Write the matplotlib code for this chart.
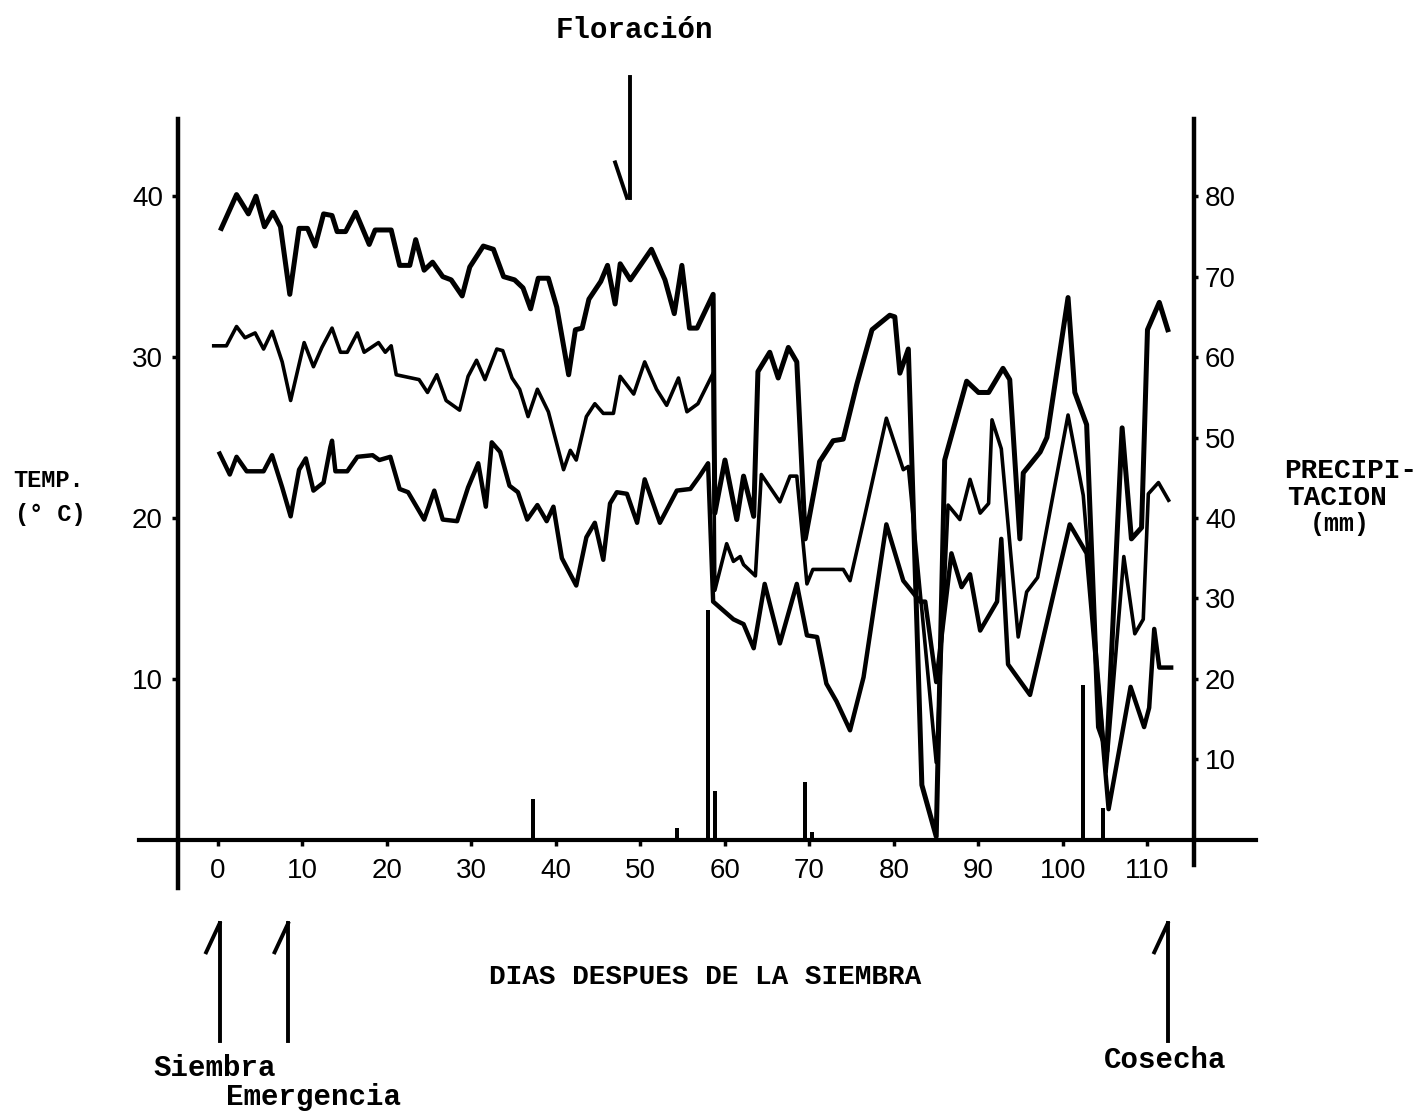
import matplotlib
matplotlib.use('Agg')
import matplotlib.pyplot as plt

# temperatura maxima (dia, grados C)
dias_max = [0.4, 2.2, 3.6, 4.5, 5.5, 6.5, 7.4, 8.5, 9.6, 10.6, 11.5, 12.5, 13.5, 14.1, 15.1,
            16.3, 17.9, 18.6, 20.5, 21.5, 22.7, 23.4, 24.4, 25.4, 26.6, 27.6, 28.9, 29.8,
            31.4, 32.6, 33.8, 35.1, 36.1, 37.0, 37.9, 39.1, 40.1, 41.5, 42.3, 43.1, 43.9,
            45.3, 46.1, 47.0, 47.6, 48.8, 51.3, 52.9, 54.0, 54.9, 55.8, 56.7, 58.6, 58.8,
            60.0, 61.4, 62.2, 63.4, 63.9, 65.3, 66.3, 67.5, 68.5, 69.5, 71.2, 72.8, 74.0,
            75.6, 77.4, 79.5, 80.1, 80.7, 81.7, 83.3, 85.0, 86.0, 88.6, 90.0, 91.2, 92.9,
            93.7, 94.9, 95.3, 97.3, 98.1, 100.6, 101.4, 102.8, 104.2, 105.2, 107.0, 108.1,
            109.3, 110.0, 111.4, 112.4]
temp_max = [38.0, 40.1, 38.9, 40.0, 38.1, 39.0, 38.1, 33.9, 38.0, 38.0, 36.9, 38.9, 38.8, 37.8, 37.8,
            39.0, 37.0, 37.9, 37.9, 35.7, 35.7, 37.3, 35.4, 35.9, 35.0, 34.8, 33.8, 35.6,
            36.9, 36.7, 35.0, 34.8, 34.3, 33.0, 34.9, 34.9, 33.1, 28.9, 31.7, 31.8, 33.6,
            34.7, 35.7, 33.3, 35.8, 34.8, 36.7, 34.8, 32.7, 35.7, 31.8, 31.8, 33.9, 20.3,
            23.6, 19.9, 22.6, 20.1, 29.1, 30.3, 28.7, 30.6, 29.7, 18.7, 23.5, 24.8, 24.9,
            28.3, 31.7, 32.6, 32.5, 29.0, 30.5, 3.4, 0.2, 23.6, 28.5, 27.8, 27.8, 29.3,
            28.6, 18.7, 22.8, 24.1, 25.0, 33.7, 27.8, 25.8, 7.0, 5.5, 25.6, 18.7,
            19.4, 31.7, 33.4, 31.7]

# temperatura media
dias_med = [-0.5, 1.0, 2.2, 3.2, 4.4, 5.4, 6.4, 7.6, 8.6, 10.2, 11.3, 12.3, 13.5, 14.5, 15.3,
            16.5, 17.3, 19.0, 19.8, 20.5, 21.1, 23.8, 24.8, 25.9, 27.0, 28.6, 29.6, 30.6,
            31.6, 33.0, 33.7, 34.8, 35.7, 36.7, 37.8, 39.1, 40.9, 41.7, 42.4, 43.6, 44.6,
            45.6, 46.8, 47.6, 49.2, 50.5, 51.9, 53.1, 54.5, 55.5, 56.8, 58.6, 58.8, 60.2,
            61.0, 61.8, 62.2, 63.6, 64.3, 66.5, 67.7, 68.5, 69.7, 70.4, 74.0, 74.8, 76.4,
            79.1, 81.1, 81.7, 85.0, 86.4, 87.8, 89.0, 90.2, 91.2, 91.6, 92.7, 94.7, 95.7,
            97.0, 100.6, 102.4, 105.1, 107.2, 108.5, 109.5, 110.1, 111.3, 112.5]
temp_med = [30.7, 30.7, 31.9, 31.2, 31.5, 30.5, 31.6, 29.7, 27.3, 30.9, 29.4, 30.6, 31.8, 30.3, 30.3,
            31.5, 30.3, 30.9, 30.3, 30.7, 28.9, 28.6, 27.8, 28.9, 27.3, 26.7, 28.8, 29.8,
            28.6, 30.5, 30.4, 28.7, 28.0, 26.3, 28.0, 26.6, 23.0, 24.2, 23.6, 26.3, 27.1,
            26.5, 26.5, 28.8, 27.7, 29.7, 28.0, 27.0, 28.7, 26.6, 27.1, 29.0, 15.5, 18.4,
            17.3, 17.6, 17.1, 16.4, 22.7, 21.0, 22.6, 22.6, 15.9, 16.8, 16.8, 16.1, 19.8,
            26.2, 23.0, 23.2, 4.8, 20.8, 19.9, 22.4, 20.3, 20.9, 26.1, 24.3, 12.6, 15.4,
            16.3, 26.4, 21.4, 4.2, 17.6, 12.8, 13.7, 21.5, 22.2, 21.1]

# temperatura minima
dias_min = [0.2, 1.4, 2.2, 3.4, 5.4, 6.4, 7.6, 8.6, 9.6, 10.4, 11.3, 12.5, 13.3, 13.5, 13.9,
            15.3, 16.5, 18.3, 19.1, 20.4, 21.5, 22.5, 24.4, 25.6, 26.6, 28.3, 29.6, 30.8,
            31.7, 32.4, 33.4, 34.5, 35.5, 36.6, 37.8, 38.9, 39.7, 40.7, 42.4, 43.6, 44.6,
            45.6, 46.4, 47.2, 48.4, 49.6, 50.5, 52.3, 54.3, 55.9, 57.0, 58.0, 58.6, 61.0,
            62.2, 63.4, 64.7, 66.5, 68.5, 69.7, 70.9, 72.0, 73.2, 74.8, 76.4, 79.1, 81.1,
            83.1, 83.7, 85.0, 86.8, 88.0, 89.0, 90.2, 92.2, 92.7, 93.5, 96.1, 100.8, 102.8,
            105.4, 108.0, 109.6, 110.2, 110.8, 111.4, 112.8]
temp_min = [24.0, 22.7, 23.8, 22.9, 22.9, 23.9, 21.9, 20.1, 23.0, 23.7, 21.7, 22.2, 24.4, 24.8, 22.9,
            22.9, 23.8, 23.9, 23.6, 23.8, 21.8, 21.6, 19.9, 21.7, 19.9, 19.8, 21.9, 23.4,
            20.7, 24.7, 24.1, 22.0, 21.6, 19.9, 20.8, 19.8, 20.7, 17.5, 15.8, 18.8, 19.7,
            17.4, 20.9, 21.6, 21.5, 19.7, 22.4, 19.7, 21.7, 21.8, 22.6, 23.4, 14.8, 13.7,
            13.4, 11.9, 15.9, 12.2, 15.9, 12.7, 12.6, 9.7, 8.6, 6.8, 10.1, 19.6, 16.1,
            14.8, 14.8, 9.8, 17.8, 15.7, 16.5, 13.0, 14.8, 18.7, 10.9, 9.0, 19.6, 17.8,
            1.9, 9.5, 7.0, 8.2, 13.1, 10.7, 10.7]

# precipitacion (mm)
dias_lluvia = [37.3, 54.3, 58.0, 58.8, 69.5, 70.3, 102.4, 104.7]
lluvia_mm = [5.0, 1.5, 28.6, 6.0, 7.2, 1.0, 19.2, 4.0]

# fenologia
eventos = ['Siembra', 'Emergencia', 'Cosecha']
dias_evento = [0.2, 8.3, 112.4]
dia_floracion = 48.8

W, H = 1428, 1114
mono = 'Liberation Mono'
sans = 'Liberation Sans'


def px(x, y):
    return x / W, 1 - y / H


fig = plt.figure(figsize=(W / 100, H / 100), dpi=100)
ax = fig.add_axes([0.0976, 0.2029, 0.7817, 0.6903])
ax.set_xlim(-9.3, 122.8)
ax.set_ylim(-3, 44.8)

ax.plot(dias_max, temp_max, color='black', lw=3.6)
ax.plot(dias_med, temp_med, color='black', lw=2.6)
ax.plot(dias_min, temp_min, color='black', lw=3.2)

ax.spines['top'].set_visible(False)
ax.spines['right'].set_visible(False)
ax.spines['bottom'].set_position(('data', 0))
ax.spines['left'].set_position(('data', -4.7))
ax.spines['bottom'].set_linewidth(3.0)
ax.spines['left'].set_linewidth(3.2)

ax.set_xticks(range(0, 111, 10))
ax.set_yticks([10, 20, 30, 40])
ax.tick_params(axis='x', direction='out', length=4, width=2.5, pad=9)
ax.tick_params(axis='y', direction='out', length=4, width=2.5, pad=7)
for lab in ax.get_xticklabels() + ax.get_yticklabels():
    lab.set_fontfamily(sans)
    lab.set_fontsize(20)

# eje de precipitacion
ax2 = ax.twinx()
ax2.set_ylim(-6, 89.6)
ax2.bar(dias_lluvia, lluvia_mm, width=0.5, color='black')
for s in ['top', 'bottom', 'left']:
    ax2.spines[s].set_visible(False)
ax2.spines['right'].set_position(('data', 115.5))
ax2.spines['right'].set_bounds(-3.2, 89.6)
ax2.spines['right'].set_linewidth(3.2)
ax2.set_yticks(range(10, 81, 10))
ax2.tick_params(axis='y', direction='out', length=3, width=2.5, pad=5)
for lab in ax2.get_yticklabels():
    lab.set_fontfamily(sans)
    lab.set_fontsize(20)

# flechas hechas a mano
for d in dias_evento:
    ax.plot([d, d], [-5.2, -12.5], color='black', lw=2.8, clip_on=False)
    ax.plot([d, d - 1.6], [-5.2, -7.0], color='black', lw=2.8, clip_on=False)
ax.plot([dia_floracion, dia_floracion], [47.4, 39.9], color='black', lw=2.8, clip_on=False)
ax.plot([dia_floracion - 1.8, dia_floracion - 0.4], [42.1, 39.9], color='black', lw=2.8,
        clip_on=False)

# textos
txt = dict(family=mono, weight='bold', va='center')
fig.text(*px(634, 30), 'Floración', fontsize=21, ha='center', **txt)
fig.text(*px(13, 481), 'TEMP.', fontsize=17, ha='left', **txt)
fig.text(*px(15, 515), '(° C)', fontsize=17, ha='left', **txt)
fig.text(*px(1284, 471), 'PRECIPI-', fontsize=20, ha='left', **txt)
fig.text(*px(1287, 498), 'TACION', fontsize=20, ha='left', **txt)
fig.text(*px(1310, 524), '(mm)', fontsize=18, ha='left', **txt)
fig.text(*px(705, 977), 'DIAS DESPUES DE LA SIEMBRA', fontsize=20, ha='center', **txt)
fig.text(*px(215, 1068), eventos[0], fontsize=21, ha='center', **txt)
fig.text(*px(313, 1097), eventos[1], fontsize=21, ha='center', **txt)
fig.text(*px(1165, 1060), eventos[2], fontsize=21, ha='center', **txt)

fig.savefig('out.png', dpi=100)
